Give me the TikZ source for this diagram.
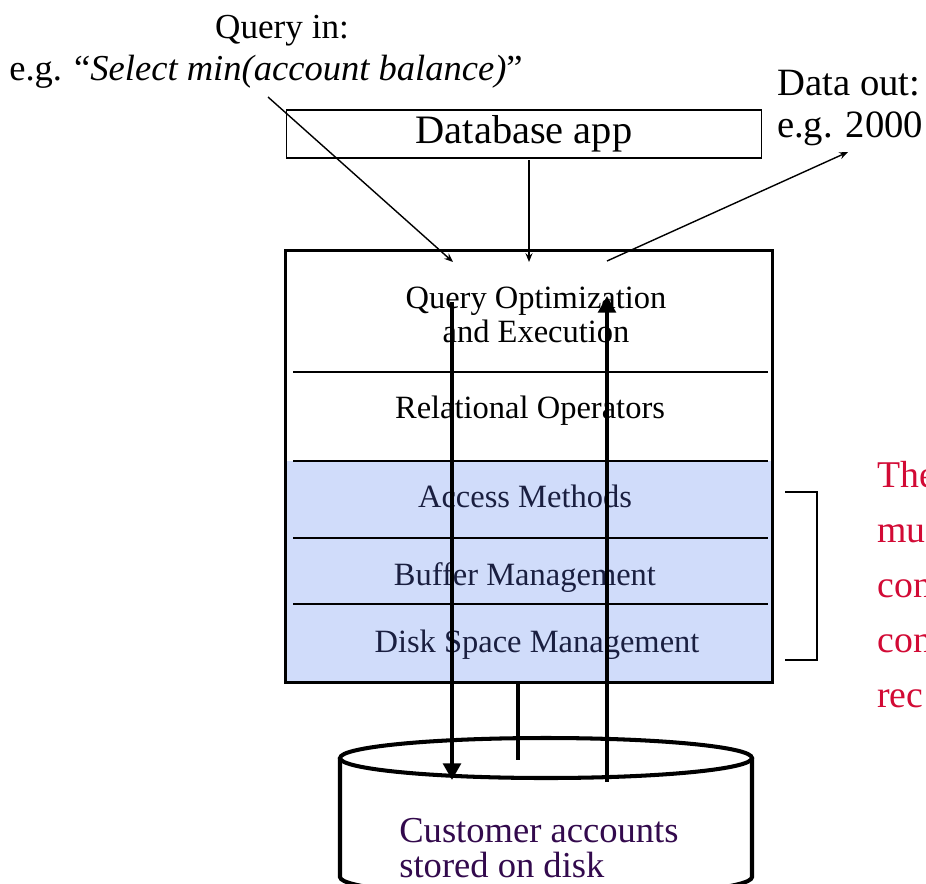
\documentclass[tikz,border=0pt]{standalone}
\usepackage{fontspec}
\setmainfont{Liberation Serif}
\usetikzlibrary{arrows.meta}
\definecolor{lyrfill}{HTML}{D0DCFA}
\definecolor{lyrtxt}{HTML}{1A1F40}
\definecolor{dsktxt}{HTML}{330A4D}
\definecolor{cnote}{HTML}{D20A35}
\tikzset{
  lbl/.style={inner sep=0pt, anchor=base, font=\fontsize{20}{24}\selectfont},
  appbox/.style={draw, line width=0.6pt, minimum width=9.52cm, minimum height=0.96cm,
                 inner sep=0pt, font=\fontsize{23}{27}\selectfont},
  layer/.style={inner sep=0pt, anchor=base, align=center, font=\fontsize{18.5}{19.3}\selectfont},
  sep/.style={line width=1.1pt},
  flow/.style={-{Triangle[length=9.5pt,width=10pt]}, line width=2.3pt},
  qflow/.style={-{Stealth[length=5pt,width=4pt]}, line width=0.8pt},
  note/.style={inner sep=0pt, anchor=base west, text=cnote, font=\fontsize{21.5}{25}\selectfont}
}
\begin{document}
\begin{tikzpicture}[x=0.02cm, y=-0.02cm]
\useasboundingbox (0,0) rectangle (926,883);
\clip (0,0) rectangle (926,883);
% slide title, cut off at the top
\node[anchor=base, inner sep=0pt, text=blue, font=\fontsize{40}{44}\selectfont\bfseries] (title) at (433,-0.5) {Structure of a DBMS};
% query in / data out
\node[lbl] (qin) at (282,38) {Query in:};
\node[lbl, font=\fontsize{20.8}{24}\selectfont] (qex) at (266,80) {e.g. “\textit{Select min(account balance)}”};
\node[lbl, font=\fontsize{22}{26}\selectfont] (dout) at (849,95) {Data out:};
\node[lbl, font=\fontsize{22}{26}\selectfont] (dex) at (850,137) {e.g. 2000};
\node[appbox] (app) at (524,134) {Database app};
% DBMS layers
\fill[lyrfill] (287,461) rectangle (772,683);
\node[draw, line width=1.7pt, minimum width=9.76cm, minimum height=8.66cm, inner sep=0pt] (stack) at (529,466.5) {};
\foreach \y in {372,461,538,604} \draw[sep] (293,\y) -- (768,\y);
\node[layer, anchor=north] (qo) at (536,287) {Query Optimization\\and Execution};
\node[layer] (rel) at (530,418) {Relational Operators};
\node[layer, text=lyrtxt] (acc) at (525,507) {Access Methods};
\node[layer, text=lyrtxt] (buf) at (525,585) {Buffer Management};
\node[layer, text=lyrtxt] (dsm) at (537,652) {Disk Space Management};
% disk
\draw[line width=2.3pt, fill=white] (340,758) -- (340,877) arc[start angle=180, end angle=0, x radius=206, y radius=20] -- (752,758);
\draw[line width=2.3pt] (546,758) ellipse [x radius=206, y radius=20];
\node[anchor=north west, inner sep=0pt, align=left, text=dsktxt, font=\fontsize{20.8}{19.8}\selectfont] (acct) at (399,818) {Customer accounts\\stored on disk};
% arrows
\coordinate (qa) at (268,97);
\coordinate (qb) at (453,262);
\coordinate (appout) at (529,160);
\coordinate (appin) at (529,262);
\coordinate (ra) at (607,261);
\coordinate (rb) at (848,152);
\draw[qflow] (qa) -- (qb);
\draw[qflow] (appout) -- (appin);
\draw[qflow] (ra) -- (rb);
\coordinate (dn0) at (452,302);
\coordinate (dn1) at (452,780);
\coordinate (up0) at (607,782);
\coordinate (up1) at (607,296);
\coordinate (st0) at (518,683);
\coordinate (st1) at (518,760);
\draw[flow] (dn0) -- (dn1);
\draw[flow] (up0) -- (up1);
\draw[line width=2.3pt] (st0) -- (st1);
% bracket and note
\draw[line width=0.8pt] (785,492) -| (817,660) -- (785,660);
\foreach \w [count=\i from 0] in {The,mu,con,con,rec}
  \node[note] (note\i) at (877,{487+55*\i}) {\w};
\end{tikzpicture}
\end{document}
